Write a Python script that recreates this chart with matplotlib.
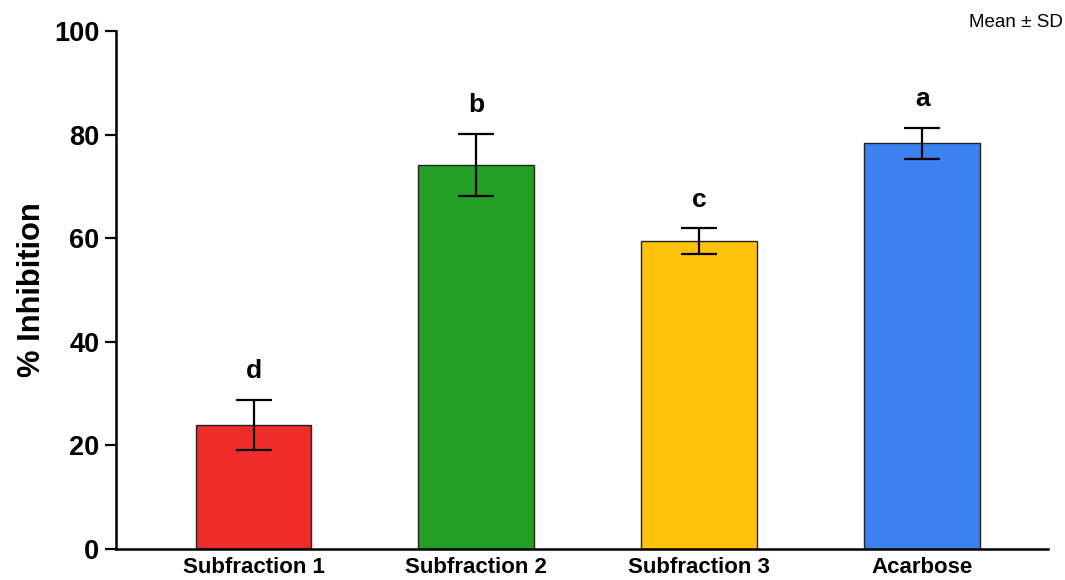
import matplotlib
matplotlib.use("Agg")
import matplotlib.pyplot as plt

categories = ["Subfraction 1", "Subfraction 2", "Subfraction 3", "Acarbose"]
means = [24.0, 74.2, 59.4, 78.3]
sds = [4.8, 6.0, 2.5, 3.0]
letters = ["d", "b", "c", "a"]
colors = ["#EE2D2A", "#22A024", "#FFC20A", "#3B82F0"]
yticks = [0, 20, 40, 60, 80, 100]

plt.rcParams['font.family'] = ['Liberation Sans', 'DejaVu Sans']

fig = plt.figure(figsize=(10.65, 5.8), dpi=100)
ax = fig.add_axes([116 / 1065, 1 - 549 / 580, (1048 - 116) / 1065, (549 - 31) / 580])

x = list(range(len(categories)))
ax.bar(x, means, width=0.52, color=colors, edgecolor="#222222", linewidth=1.0, zorder=2)
ax.errorbar(x, means, yerr=sds, fmt="none", ecolor="black", elinewidth=1.6,
            capsize=13, capthick=1.6, zorder=3)

for xi, m, s, l in zip(x, means, sds, letters):
    ax.annotate(l, (xi, m + s), xytext=(0, 12), textcoords="offset points",
                ha="center", va="bottom", fontsize=19, fontweight="bold")

ax.set_xlim(-0.617, 3.565)
ax.set_ylim(0, 100)
ax.set_yticks(yticks)
ax.set_xticks(x)
ax.set_xticklabels(categories, fontsize=16, fontweight="bold")
ax.tick_params(axis="x", length=0, pad=6)
ax.tick_params(axis="y", length=8, width=1.6, labelsize=19.5, pad=4)
for lab in ax.get_yticklabels():
    lab.set_fontweight("bold")
ax.set_ylabel("% Inhibition", fontsize=22.2, fontweight="bold", labelpad=5)

ax.spines["top"].set_visible(False)
ax.spines["right"].set_visible(False)
ax.spines["left"].set_linewidth(1.8)
ax.spines["bottom"].set_linewidth(1.8)

fig.text(0.998, 0.962, "Mean ± SD", ha="right", va="center", fontsize=13.5)

fig.savefig("out.png", dpi=100)
